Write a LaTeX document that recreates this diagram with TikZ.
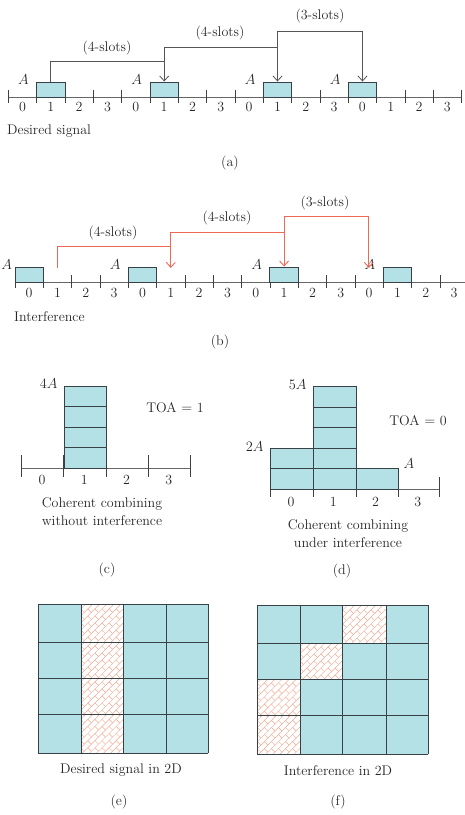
\documentclass[tikz,border=0pt]{standalone}
\usepackage{tikz}
\usetikzlibrary{arrows.meta,calc}

\definecolor{slotfill}{RGB}{180,225,230}
\definecolor{slotedge}{RGB}{55,65,70}
\definecolor{linkgray}{RGB}{85,85,85}
\definecolor{linkred}{RGB}{240,105,85}
\definecolor{brickred}{RGB}{243,172,148}

% brick hatching of one grid cell, corners #1 and #2
\newcommand{\brickcell}[2]{%
  \begin{scope}
    \clip (#1) rectangle (#2);
    \fill[white] (#1) rectangle (#2);
    \begin{scope}[shift={($(#1)!0.5!(#2)$)}, rotate=45]
      \foreach \i in {-9,...,9} {
        \draw[brickline] (-45,\i*5) -- (45,\i*5);
        \foreach \j in {-4,...,4} {
          \pgfmathsetmacro\xo{\j*10+mod(\i+20,2)*5}
          \draw[brickline] (\xo,\i*5) -- (\xo,\i*5+5);
        }
      }
    \end{scope}
  \end{scope}}

\begin{document}
\begin{tikzpicture}[x=1pt, y=-1pt,
  font=\fontsize{14}{18}\selectfont, text=black!85,
  slotbox/.style={draw=slotedge, fill=slotfill, line width=0.9pt,
    minimum width=28.33pt, minimum height=15pt, inner sep=0pt},
  stackbox/.style={draw=slotedge, fill=slotfill, line width=0.9pt},
  axisline/.style={draw=black!60, line width=0.8pt},
  tickline/.style={draw=black!75, line width=0.8pt},
  graylink/.style={draw=linkgray, line width=0.8pt,
    -{Straight Barb[length=5pt,width=9pt]}},
  redlink/.style={draw=linkred, line width=0.9pt,
    -{Straight Barb[length=5pt,width=9pt]}},
  gridline/.style={draw=slotedge, line width=1pt},
  brickline/.style={draw=brickred, line width=0.45pt},
  digit/.style={inner sep=0pt}]

  \useasboundingbox (0,0) rectangle (465,815);

  % (a) desired signal
  \draw[axisline] (8.3,97) -- (461.6,97);
  \foreach \k in {0,...,16}
    \draw[tickline] ({8.3+28.33*\k},90) -- ({8.3+28.33*\k},103);
  \foreach \k in {0,...,15} {
    \pgfmathtruncatemacro\d{mod(\k,4)}
    \node[digit] (da-d\k) at ({8.3+28.33*(\k+0.5)},107) {\d};
  }
  \node[slotbox] (da1) at (50.8,89.5) {};
  \node[slotbox] (da2) at (164.2,89.5) {};
  \node[slotbox] (da3) at (277.5,89.5) {};
  \node[slotbox] (da4) at (362.5,89.5) {};
  \foreach \b in {1,...,4}
    \node[anchor=east, xshift=-4pt, yshift=2pt] (aa\b) at (da\b.north west) {$A$};

  \coordinate (ha1) at (164.2,61);
  \coordinate (ha2) at (277.5,47);
  \coordinate (ha3) at (362.5,31);
  \draw[graylink] (da1.north) |- (ha1) -- (da2.north);
  \draw[graylink] (ha1) |- (ha2) -- (da3.north);
  \draw[graylink] (ha2) |- (ha3) -- (da4.north);
  \node (la1) at (107,48) {(4-slots)};
  \node (la2) at (220,33) {(4-slots)};
  \node (la3) at (320,16) {(3-slots)};

  \node[anchor=west, inner sep=0pt] (desired) at (7,131) {Desired signal};
  \node (capa) at (230,163) {(a)};

  % (b) interference
  \draw[axisline] (15,282) -- (465,282);
  \foreach \k in {0,...,15}
    \draw[tickline] ({15+28.33*\k},275) -- ({15+28.33*\k},288);
  \foreach \k in {0,...,15} {
    \pgfmathtruncatemacro\d{mod(\k,4)}
    \node[digit] (db-d\k) at ({15+28.33*(\k+0.5)},293) {\d};
  }
  \node[slotbox] (db1) at (29.2,274.5) {};
  \node[slotbox] (db2) at (142.5,274.5) {};
  \node[slotbox] (db3) at (284.1,274.5) {};
  \node[slotbox] (db4) at (397.4,274.5) {};
  \node[anchor=east, xshift=-1.5pt, yshift=2pt, inner xsep=1pt] (ab1) at (db1.north west) {$A$};
  \foreach \b in {2,...,4}
    \node[anchor=east, xshift=-4pt, yshift=2pt] (ab\b) at (db\b.north west) {$A$};

  \coordinate (ib0) at (57.5,268);
  \coordinate (hb1) at (170.8,246);
  \coordinate (hb2) at (284.1,232);
  \coordinate (hb3) at (368.8,216);
  \coordinate (tb1) at (170.8,268);
  \coordinate (tb3) at (368.8,268);
  \draw[redlink] (ib0) |- (hb1) -- (tb1);
  \draw[redlink] (hb1) |- (hb2) -- (db3.north);
  \draw[redlink] (hb2) |- (hb3) -- (tb3);
  \node (lb1) at (113,233) {(4-slots)};
  \node (lb2) at (227,218) {(4-slots)};
  \node (lb3) at (325,203) {(3-slots)};

  \node[anchor=west, inner sep=0pt] (interf) at (14,317) {Interference};
  \node (capb) at (220,342) {(b)};

  % (c) coherent combining without interference
  \draw[axisline] (21,468) -- (190,468);
  \foreach \x in {21,63,106,148,190}
    \draw[tickline] (\x,455) -- (\x,477);
  \foreach \r in {0,...,3}
    \draw[stackbox] (64,{386+20.5*\r}) rectangle (106,{406.5+20.5*\r});
  \foreach \k in {0,...,3}
    \node[digit] (dc-d\k) at ({21+42.25*(\k+0.5)},480) {\k};
  \node[anchor=east, xshift=-3pt, yshift=2pt] (ac) at (64,386) {$4A$};
  \node (toac) at (175,408) {TOA $=$ 1};
  \node[align=center] (textc) at (102,512) {Coherent combining\\without interference};
  \node (capc) at (107,570) {(c)};

  % (d) coherent combining under interference
  \draw[axisline] (270,489) -- (439,489);
  \foreach \x in {270,313,356,398,439}
    \draw[tickline] (\x,477) -- (\x,497);
  \foreach \r in {0,1}
    \draw[stackbox] (270,{448+20.5*\r}) rectangle (313,{468.5+20.5*\r});
  \foreach \r in {0,...,4}
    \draw[stackbox] (313,{386.5+20.5*\r}) rectangle (356,{407+20.5*\r});
  \draw[stackbox] (356,468.5) rectangle (398,489);
  \foreach \k in {0,...,3}
    \node[digit] (dd-d\k) at ({270+42.25*(\k+0.5)},502) {\k};
  \node[anchor=east, xshift=-3pt, yshift=2pt] (ad5) at (313,386.5) {$5A$};
  \node[anchor=east, xshift=-3pt, yshift=1pt] (ad2) at (270,448) {$2A$};
  \node[anchor=west, xshift=2pt, yshift=5pt] (ad1) at (398,468.5) {$A$};
  \node (toad) at (418,421) {TOA $=$ 0};
  \node[align=center] (textd) at (348,534) {Coherent combining\\under interference};
  \node (capd) at (342,571) {(d)};

  % (e) desired signal in 2D
  \fill[slotfill] (38,604) rectangle (208,753);
  \foreach \r/\ya/\yb in {0/604/642,1/642/678,2/678/714,3/714/753}
    \brickcell{81,\ya}{123,\yb};
  \foreach \x in {38,81,123,166,208}
    \draw[gridline] (\x,604) -- (\x,753);
  \foreach \y in {604,642,678,714,753}
    \draw[gridline] (38,\y) -- (208,\y);
  \node (texte) at (121,770) {Desired signal in 2D};
  \node (cape) at (119,802) {(e)};

  % (f) interference in 2D
  \fill[slotfill] (257,605) rectangle (428,754);
  \brickcell{342,605}{386,643}
  \brickcell{300,643}{342,679}
  \brickcell{257,679}{300,715}
  \brickcell{257,715}{300,754}
  \foreach \x in {257,300,342,386,428}
    \draw[gridline] (\x,605) -- (\x,754);
  \foreach \y in {605,643,679,715,754}
    \draw[gridline] (257,\y) -- (428,\y);
  \node (textf) at (338,771) {Interference in 2D};
  \node (capf) at (338,802) {(f)};
\end{tikzpicture}
\end{document}
